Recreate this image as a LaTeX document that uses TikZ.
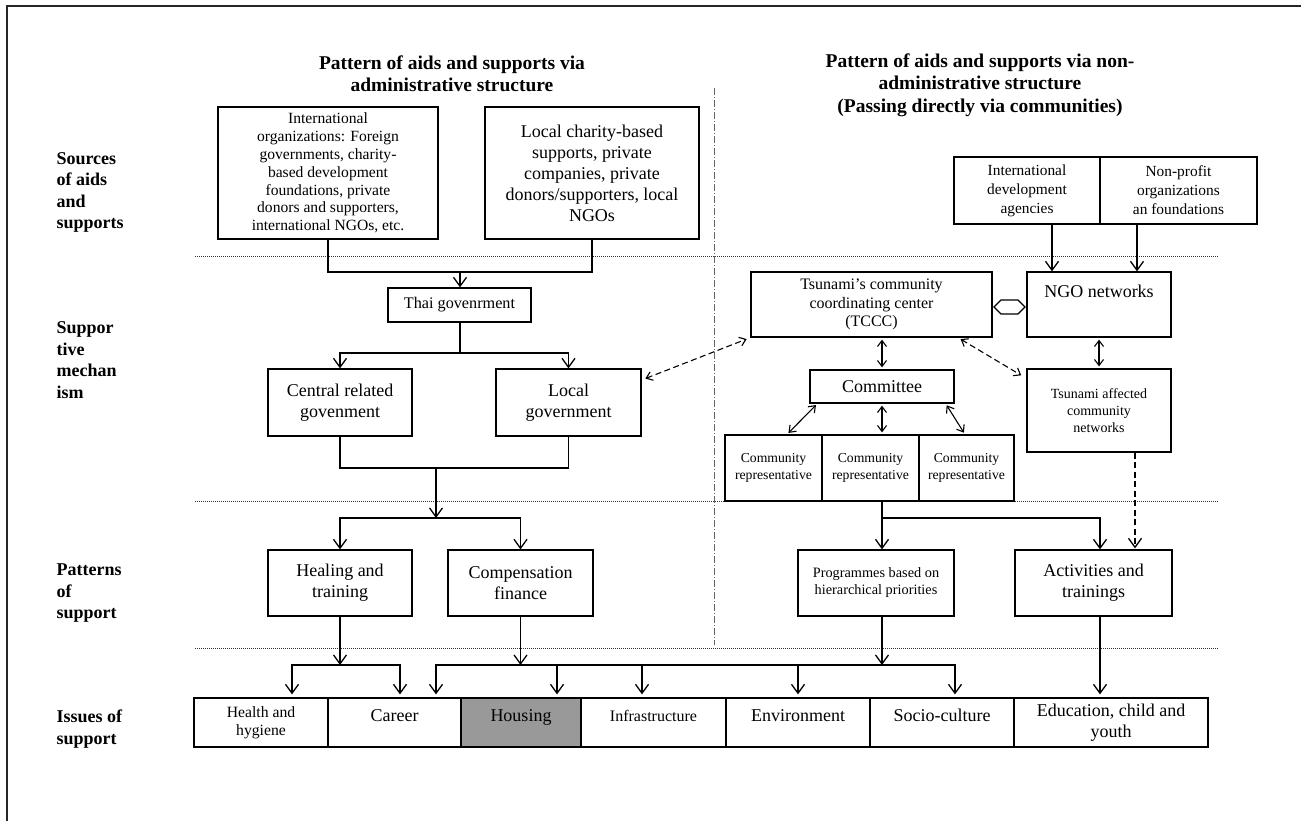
\documentclass[tikz,border=0pt]{standalone}
\usepackage{fontspec}
\setmainfont{Liberation Serif}
\usetikzlibrary{arrows.meta,shapes.arrows}
\newcommand\fsz[2]{\fontsize{#1}{#2}\selectfont}
\begin{document}
\begin{tikzpicture}[x=1pt,y=-1pt,
  box/.style={draw, line width=1.2pt, inner sep=1pt, align=center, font=\fsz{18}{21}},
  one/.style={text height=12pt, text depth=14pt},
  ln/.style={line width=1.3pt},
  arr/.style={ln, -{Straight Barb[length=9pt,width=13pt]}},
  dbl/.style={line width=1.1pt, {Straight Barb[length=6pt,width=9pt]}-{Straight Barb[length=6pt,width=9pt]}, shorten <=2pt, shorten >=2pt},
  dashln/.style={dash pattern=on 6pt off 3.5pt},
  sepline/.style={line width=1pt, dash pattern=on 1pt off 1pt, black!80},
  rowlab/.style={anchor=west, align=left, font=\bfseries\fsz{18}{21.5}},
  ttl/.style={align=center, font=\bfseries\fsz{19.5}{22.5}}
]
\useasboundingbox (0,0) rectangle (1301,821);
% frame
\draw[line width=1.8pt, black!85] (7,821) -- (7,6) -- (1301,6);

% titles
\node[ttl] (t1) at (452,74) {Pattern of aids and supports via\\administrative structure};
\node[ttl] (t2) at (980,85) {Pattern of aids and supports via non-\\administrative structure\\(Passing directly via communities)};

% row labels
\node[rowlab] (r1) at (53,192.5) {Sources\\of aids\\and\\supports};
\node[rowlab] (r2) at (53,360) {Suppor\\tive\\mechan\\ism};
\node[rowlab] (r3) at (53,593.5) {Patterns\\of\\support};
\node[rowlab] (r4) at (53,729) {Issues of\\support};

% separators
\draw[sepline] (195,256) -- (1218,256);
\draw[sepline] (195,501) -- (1218,501);
\draw[sepline] (195,648) -- (1218,648);
\draw[line width=0.6pt, black!60, dash pattern=on 7pt off 2pt on 1pt off 2pt] (714,88) -- (714,645);

% sources
\node[box, font=\fsz{15.6}{17.8}, minimum width=220pt, minimum height=132pt] (intl) at (328,173)
  {International\\organizations: Foreign\\governments, charity-\\based development\\foundations, private\\donors and supporters,\\international NGOs, etc.};
\node[box, minimum width=214pt, minimum height=132pt] (local) at (592,173)
  {Local charity-based\\supports, private\\companies, private\\donors/supporters, local\\NGOs};
\node[box, font=\fsz{15.4}{19}, minimum width=146pt, minimum height=67pt] (intldev) at (1027,190.5)
  {International\\development\\agencies};
\node[box, font=\fsz{15.4}{19}, minimum width=157pt, minimum height=67pt] (nonprofit) at (1178.5,190.5)
  {Non-profit\\organizations\\an foundations};

% supportive mechanism
\node[box, font=\fsz{16.2}{19}, minimum width=143pt, minimum height=34pt] (thai) at (459.5,305) {Thai govenrment};
\node[box, minimum width=144pt, minimum height=67pt] (central) at (340,402.5) {Central related\\govenment};
\node[box, minimum width=145pt, minimum height=67pt] (localgov) at (568.5,402.5) {Local\\government};
\node[box, font=\fsz{16}{18.5}, minimum width=241pt, minimum height=65pt] (tccc) at (871.5,304.5)
  {Tsunami’s community\\coordinating center\\(TCCC)};
\node[box, text height=13pt, text depth=28pt, minimum width=144pt, minimum height=65pt] (ngo) at (1099,304.5) {NGO networks};
\node[box, minimum width=144pt, minimum height=33pt] (committee) at (882,386.5) {Committee};
\node[box, font=\fsz{14}{17}, minimum width=144pt, minimum height=83pt] (tsun) at (1099,410.5)
  {Tsunami affected\\community\\networks};
\node[box, font=\fsz{13.7}{17}, minimum width=97pt, minimum height=66pt] (rep1) at (773.5,468) {Community\\representative};
\node[box, font=\fsz{13.7}{17}, minimum width=97pt, minimum height=66pt] (rep2) at (870.5,468) {Community\\representative};
\node[box, font=\fsz{13.7}{17}, minimum width=95pt, minimum height=66pt] (rep3) at (966.5,468) {Community\\representative};
\node[draw, double arrow, double arrow head extend=0pt, minimum width=14pt, minimum height=31pt,
  inner sep=0pt, line width=1.3pt] (link) at (1009.5,307) {};

% patterns of support
\node[box, minimum width=144pt, minimum height=66pt] (healing) at (340,583) {Healing and\\training};
\node[box, minimum width=145pt, minimum height=66pt] (comp) at (520.5,583) {Compensation\\finance};
\node[box, font=\fsz{14.3}{17}, minimum width=156pt, minimum height=66pt] (prog) at (876,583)
  {Programmes based on\\hierarchical priorities};
\node[box, minimum width=157pt, minimum height=66pt] (activ) at (1093.5,583) {Activities and\\trainings};

% issues
\node[box, font=\fsz{15.7}{18}, minimum width=134pt, minimum height=49pt] (health) at (261,722.5) {Health and\\hygiene};
\node[box, one, minimum width=133pt, minimum height=49pt] (career) at (394.5,722.5) {Career};
\node[box, one, fill=black!40, minimum width=120pt, minimum height=49pt] (housing) at (521,722.5) {Housing};
\node[box, one, font=\fsz{16}{18}, minimum width=145pt, minimum height=49pt] (infra) at (653.5,722.5) {Infrastructure};
\node[box, one, minimum width=144pt, minimum height=49pt] (env) at (798,722.5) {Environment};
\node[box, one, minimum width=144pt, minimum height=49pt] (socio) at (942,722.5) {Socio-culture};
\node[box, minimum width=194pt, minimum height=49pt] (edu) at (1111,722.5) {Education, child and\\youth};

% ---- connectors left
\coordinate (b1) at (460,272);
\draw[ln] (intl.south) |- (b1) -| (local.south);
\draw[arr] (b1) -- (b1 |- thai.north);
\coordinate (b2) at (460,353);
\draw[ln] (b1 |- thai.south) -- (b2);
\draw[arr] (b2) -| (central.north);
\draw[arr] (b2) -| (localgov.north);
\coordinate (b3) at (436,468);
\draw[ln] (central.south) |- (b3);
\draw[ln] (localgov.south) |- (b3);
\coordinate (b4) at (436,518);
\draw[arr] (b3) -- (b4);
\draw[arr] (b4) -| (healing.north);
\draw[arr] (b4) -| (comp.north);
\coordinate (b5) at (340,665);
\coordinate (b6) at (520.5,665);
\draw[arr] (healing.south) -- (b5);
\draw[arr] (comp.south) -- (b6);
\draw[arr, shorten >=3pt] (b5) -| ([xshift=31pt]health.north);
\draw[arr, shorten >=3pt] (b5) -| ([xshift=5.5pt]career.north);
\draw[arr, shorten >=3pt] (b6) -| ([xshift=41.5pt]career.north);
\draw[arr, shorten >=3pt] (b6) -| ([xshift=36pt]housing.north);
\draw[arr, shorten >=3pt] (b6) -| ([xshift=-11.5pt]infra.north);
\draw[arr, shorten >=3pt] (b6) -| (env.north);
\draw[arr, shorten >=3pt] (b6) -| ([xshift=13pt]socio.north);
\coordinate (b7) at (882,665);
\draw[arr] ([xshift=6pt]prog.south) -- (b7);
\draw[arr, shorten >=3pt] ([xshift=6.5pt]activ.south) -- ([xshift=-11pt]edu.north);

% ---- connectors right
\draw[arr] ([xshift=25pt]intldev.south) -- ([xshift=-47pt]ngo.north);
\draw[arr] ([xshift=-41.5pt]nonprofit.south) -- ([xshift=38pt]ngo.north);
\draw[dbl] ([xshift=10.5pt]tccc.south) -- (committee.north);
\draw[dbl] (ngo.south) -- (tsun.north);
\draw[dbl] ([xshift=8pt]committee.south west) -- ([xshift=13.5pt]rep1.north);
\draw[dbl] (committee.south) -- ([xshift=11.5pt]rep2.north);
\draw[dbl] ([xshift=-9pt]committee.south east) -- ([xshift=-1.5pt]rep3.north);
\draw[dbl, dashln, shorten <=4pt, shorten >=4pt] ([yshift=22.5pt]localgov.east) -- (tccc.south west);
\draw[dbl, dashln, shorten <=3pt, shorten >=6pt] ([xshift=86.5pt]tccc.south) -- ([yshift=-10pt]tsun.north west);
\coordinate (b8) at (882,518);
\draw[ln] ([xshift=11.5pt]rep2.south) -- (b8);
\draw[arr] (b8) -- ([xshift=6pt]prog.north);
\draw[arr] (b8) -| ([xshift=6.5pt]activ.north);
\draw[arr, dashln, shorten >=1pt] ([xshift=36pt]tsun.south) -- ([xshift=41.5pt]activ.north);
\end{tikzpicture}
\end{document}
